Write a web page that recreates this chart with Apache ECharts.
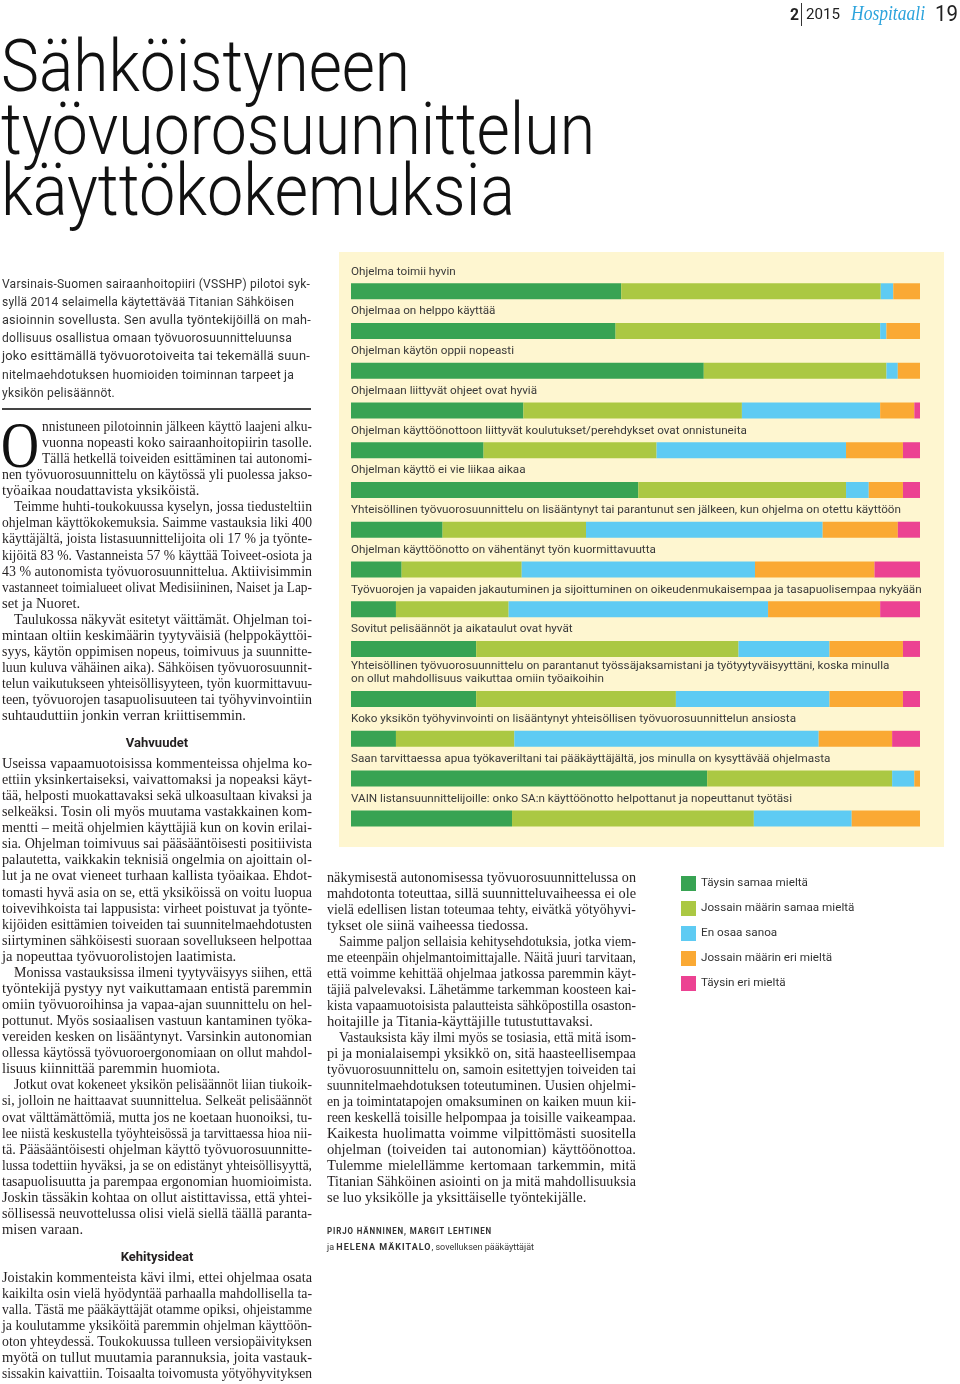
<!DOCTYPE html>
<html><head><meta charset="utf-8">
<script src="https://cdn.jsdelivr.net/npm/echarts@6/dist/echarts.min.js"></script>
<style>
html,body{margin:0;padding:0;background:#fff;}
#page{position:relative;width:960px;height:1384px;overflow:hidden;background:#fff;}
#chart{position:absolute;left:0;top:0;width:960px;height:1384px;z-index:1;}
.ln{position:absolute;z-index:2;white-space:nowrap;}
.ln>span{display:inline-block;white-space:nowrap;transform-origin:0 50%;}
.serif{font-family:"Liberation Serif","DejaVu Serif",serif;font-size:14.6px;color:#231f20;}
.intro{font-family:Roboto,"Liberation Sans",sans-serif;font-size:12px;color:#333;letter-spacing:0.2px;}
.title{font-family:Roboto,"Liberation Sans",sans-serif;font-weight:300;font-size:72px;color:#111;}
.hdr{font-family:Roboto,"Liberation Sans",sans-serif;color:#222;}
.head{position:absolute;z-index:2;font-family:Roboto,"Liberation Sans",sans-serif;font-weight:700;font-size:13px;color:#231f20;text-align:center;}
.by{font-family:Roboto,"Liberation Sans",sans-serif;font-size:9px;color:#333;}
.by b{letter-spacing:1px;font-weight:700;}
.drop{font-family:"Liberation Serif","DejaVu Serif",serif;font-size:66px;color:#111;}
</style></head>
<body>
<div id="page"><div id="chart"></div></div>
<script>
// ---------- DATA ----------
const questions = [
  'Ohjelma toimii hyvin',
  'Ohjelmaa on helppo käyttää',
  'Ohjelman käytön oppii nopeasti',
  'Ohjelmaan liittyvät ohjeet ovat hyviä',
  'Ohjelman käyttöönottoon liittyvät koulutukset/perehdykset ovat onnistuneita',
  'Ohjelman käyttö ei vie liikaa aikaa',
  'Yhteisöllinen työvuorosuunnittelu on lisääntynyt tai parantunut sen jälkeen, kun ohjelma on otettu käyttöön',
  'Ohjelman käyttöönotto on vähentänyt työn kuormittavuutta',
  'Työvuorojen ja vapaiden jakautuminen ja sijoittuminen on oikeudenmukaisempaa ja tasapuolisempaa nykyään',
  'Sovitut pelisäännöt ja aikataulut ovat hyvät',
  'Yhteisöllinen työvuorosuunnittelu on parantanut työssäjaksamistani ja työtyytyväisyyttäni, koska minulla\non ollut mahdollisuus vaikuttaa omiin työaikoihin',
  'Koko yksikön työhyvinvointi on lisääntynyt yhteisöllisen työvuorosuunnittelun ansiosta',
  'Saan tarvittaessa apua työkaveriltani tai pääkäyttäjältä, jos minulla on kysyttävää ohjelmasta',
  'VAIN listansuunnittelijoille: onko SA:n käyttöönotto helpottanut ja nopeuttanut työtäsi'
];
const taysinSamaa  = [47.5, 46.5, 62.0, 30.3, 23.3, 50.5, 16.1,  8.9,  7.9, 22.0, 22.0,  7.9, 62.6, 28.3];
const jossainSamaa = [45.6, 46.5, 32.1, 38.4, 30.4, 36.5, 25.2, 21.1, 19.8, 46.1, 35.1, 20.8, 32.5, 42.5];
const enOsaa       = [ 2.2,  1.1,  2.0, 24.3, 33.3,  4.0, 41.6, 41.0, 45.6, 16.0, 27.0, 53.5,  3.9, 17.2];
const jossainEri   = [ 4.7,  5.9,  3.9,  6.0, 10.0,  6.0, 13.2, 21.0, 19.7, 12.9, 12.9, 12.9,  1.0, 12.0];
const taysinEri    = [ 0,    0,    0,    1.0,  3.0,  3.0,  3.9,  8.0,  7.0,  3.0,  3.0,  4.9,  0,    0  ];
const legendNames = ['Täysin samaa mieltä', 'Jossain määrin samaa mieltä', 'En osaa sanoa', 'Jossain määrin eri mieltä', 'Täysin eri mieltä'];
const seriesValues = [taysinSamaa, jossainSamaa, enOsaa, jossainEri, taysinEri];
const colors = ['#38A353', '#ABC843', '#5ECBF3', '#FAA934', '#EC4292'];
const splitAt = 10; // second group (extra gap before two-line label)

// ---------- TEXT LAYOUT HELPERS ----------
const page = document.getElementById('page');
function addLine(o) {
  const d = document.createElement('div');
  d.className = 'ln ' + (o.cls || '');
  d.style.left = o.x + 'px';
  d.style.top = (o.cy - o.lh / 2) + 'px';
  d.style.height = o.lh + 'px';
  d.style.lineHeight = o.lh + 'px';
  if (o.color) d.style.color = o.color;
  const sp = document.createElement('span');
  sp.innerHTML = o.html;
  d.appendChild(sp);
  d.dataset.w = o.w; d.dataset.m = o.m;
  page.appendChild(d);
}
function addBlock(x, y0, pitch, w, cls, lines) {
  lines.forEach((s, i) => {
    let indent = 0, m = 'j';
    if (s.startsWith('§')) { indent = 40; s = s.slice(1); }
    else if (s.startsWith('>')) { indent = 12; s = s.slice(1); }
    if (s.endsWith('¶')) { m = 'l'; s = s.slice(0, -1); }
    addLine({x: x + indent, cy: y0 + i * pitch, lh: 16, w: w - indent, m: m, cls: cls, html: s});
  });
}
function fit() {
  document.querySelectorAll('.ln').forEach(d => {
    const sp = d.firstChild;
    sp.style.transform = ''; sp.style.display = 'inline-block'; sp.style.width = '';
    sp.style.whiteSpace = 'nowrap'; sp.style.textAlign = ''; sp.style.textAlignLast = '';
    const nat = sp.getBoundingClientRect().width;
    const w = +d.dataset.w, m = d.dataset.m;
    if (m === 's' || nat > w - 0.5) sp.style.transform = 'scaleX(' + (w / nat) + ')';
    else if (m === 'j') {
      sp.style.display = 'block'; sp.style.width = w + 'px'; sp.style.whiteSpace = 'normal';
      sp.style.textAlign = 'justify'; sp.style.textAlignLast = 'justify';
    }
  });
}

// header
addLine({x: 790, cy: 14, lh: 24, w: 9, m: 's', cls: 'hdr', html: '<b style="font-size:17px">2</b>'});
const sep = document.createElement('div');
sep.style.cssText = 'position:absolute;left:801px;top:3px;width:1px;height:23px;background:#333;z-index:2';
page.appendChild(sep);
addLine({x: 806, cy: 14, lh: 24, w: 34, m: 's', cls: 'hdr', html: '<span style="font-size:15px">2015</span>'});
addLine({x: 851, cy: 13, lh: 24, w: 74, m: 's', cls: 'hdr', color: '#2BA3DC', html: '<i style="font-family:\'Liberation Serif\',serif;font-size:20px">Hospitaali</i>'});
addLine({x: 935, cy: 14, lh: 26, w: 23, m: 's', cls: 'hdr', html: '<span style="font-size:22px">19</span>'});

// title
addLine({x: 1, cy: 66.5, lh: 72, w: 409, m: 's', cls: 'title', html: 'Sähköistyneen'});
addLine({x: 1, cy: 129.5, lh: 72, w: 594, m: 's', cls: 'title', html: 'työvuorosuunnittelun'});
addLine({x: 1, cy: 190.5, lh: 72, w: 514, m: 's', cls: 'title', html: 'käyttökokemuksia'});

// intro (ragged)
const introLines = [
  ['Varsinais-Suomen sairaanhoitopiiri (VSSHP) pilotoi syk-', 308],
  ['syllä 2014 selaimella käytettävää Titanian Sähköisen', 292],
  ['asioinnin sovellusta. Sen avulla työntekijöillä on mah-', 309],
  ['dollisuus osallistua omaan työvuorosuunnitteluunsa', 290],
  ['joko esittämällä työvuorotoiveita tai tekemällä suun-', 308],
  ['nitelmaehdotuksen huomioiden toiminnan tarpeet ja', 292],
  ['yksikön pelisäännöt.', 113]
];
introLines.forEach((l, i) => addLine({x: 2, cy: 284 + i * 18.1, lh: 18, w: l[1], m: 's', cls: 'intro', html: l[0]}));
const rule = document.createElement('div');
rule.style.cssText = 'position:absolute;left:2px;top:408px;width:309px;height:1.5px;background:#444;z-index:2';
page.appendChild(rule);

// drop cap
addLine({x: 1, cy: 445, lh: 66, w: 38, m: 's', cls: 'drop', html: 'O'});

addBlock(2, 426, 16.07, 310, 'serif', [
  '§nnistuneen pilotoinnin jälkeen käyttö laajeni alku-',
  '§vuonna nopeasti koko sairaanhoitopiirin tasolle.',
  '§Tällä hetkellä toiveiden esittäminen tai autonomi-',
  'nen työvuorosuunnittelu on käytössä yli puolessa jakso-',
  'työaikaa noudattavista yksiköistä.¶',
  '>Teimme huhti-toukokuussa kyselyn, jossa tiedusteltiin',
  'ohjelman käyttökokemuksia. Saimme vastauksia liki 400',
  'käyttäjältä, joista listasuunnittelijoita oli 17 % ja työnte-',
  'kijöitä 83 %. Vastanneista 57 % käyttää Toiveet-osiota ja',
  '43 % autonomista työvuorosuunnittelua. Aktiivisimmin',
  'vastanneet toimialueet olivat Medisiininen, Naiset ja Lap-',
  'set ja Nuoret.¶',
  '>Taulukossa näkyvät esitetyt väittämät. Ohjelman toi-',
  'mintaan oltiin keskimäärin tyytyväisiä (helppokäyttöi-',
  'syys, käytön oppimisen nopeus, toimivuus ja suunnitte-',
  'luun kuluva vähäinen aika). Sähköisen työvuorosuunnit-',
  'telun vaikutukseen yhteisöllisyyteen, työn kuormittavuu-',
  'teen, työvuorojen tasapuolisuuteen tai työhyvinvointiin',
  'suhtauduttiin jonkin verran kriittisemmin.¶'
]);

function addHead(text, cy) {
  const h = document.createElement('div');
  h.className = 'head';
  h.style.left = '2px'; h.style.width = '310px';
  h.style.top = (cy - 9) + 'px'; h.style.lineHeight = '18px';
  h.textContent = text;
  page.appendChild(h);
}
addHead('Vahvuudet', 743);

addBlock(2, 763, 16.07, 310, 'serif', [
  'Useissa vapaamuotoisissa kommenteissa ohjelma ko-',
  'ettiin yksinkertaiseksi, vaivattomaksi ja nopeaksi käyt-',
  'tää, helposti muokattavaksi sekä ulkoasultaan kivaksi ja',
  'selkeäksi. Tosin oli myös muutama vastakkainen kom-',
  'mentti – meitä ohjelmien käyttäjiä kun on kovin erilai-',
  'sia. Ohjelman toimivuus sai pääsääntöisesti positiivista',
  'palautetta, vaikkakin teknisiä ongelmia on ajoittain ol-',
  'lut ja ne ovat vieneet turhaan kallista työaikaa. Ehdot-',
  'tomasti hyvä asia on se, että yksiköissä on voitu luopua',
  'toivevihkoista tai lappusista: virheet poistuvat ja työnte-',
  'kijöiden esittämien toiveiden tai suunnitelmaehdotusten',
  'siirtyminen sähköisesti suoraan sovellukseen helpottaa',
  'ja nopeuttaa työvuorolistojen laatimista.¶',
  '>Monissa vastauksissa ilmeni tyytyväisyys siihen, että',
  'työntekijä pystyy nyt vaikuttamaan entistä paremmin',
  'omiin työvuoroihinsa ja vapaa-ajan suunnittelu on hel-',
  'pottunut. Myös sosiaalisen vastuun kantaminen työka-',
  'vereiden kesken on lisääntynyt. Varsinkin autonomian',
  'ollessa käytössä työvuoroergonomiaan on ollut mahdol-',
  'lisuus kiinnittää paremmin huomiota.¶',
  '>Jotkut ovat kokeneet yksikön pelisäännöt liian tiukoik-',
  'si, jolloin ne haittaavat suunnittelua. Selkeät pelisäännöt',
  'ovat välttämättömiä, mutta jos ne koetaan huonoiksi, tu-',
  'lee niistä keskustella työyhteisössä ja tarvittaessa hioa nii-',
  'tä. Pääsääntöisesti ohjelman käyttö työvuorosuunnitte-',
  'lussa todettiin hyväksi, ja se on edistänyt yhteisöllisyyttä,',
  'tasapuolisuutta ja parempaa ergonomian huomioimista.',
  'Joskin tässäkin kohtaa on ollut aistittavissa, että yhtei-',
  'söllisessä neuvottelussa olisi vielä siellä täällä paranta-',
  'misen varaan.¶'
]);

addHead('Kehitysideat', 1257);

addBlock(2, 1277, 16.07, 310, 'serif', [
  'Joistakin kommenteista kävi ilmi, ettei ohjelmaa osata',
  'kaikilta osin vielä hyödyntää parhaalla mahdollisella ta-',
  'valla. Tästä me pääkäyttäjät otamme opiksi, ohjeistamme',
  'ja koulutamme yksiköitä paremmin ohjelman käyttöön-',
  'oton yhteydessä. Toukokuussa tulleen versiopäivityksen',
  'myötä on tullut muutamia parannuksia, joita vastauk-',
  'sissakin kaivattiin. Toisaalta toivomusta yötyöhyvityksen'
]);

addBlock(327, 877, 16.0, 309, 'serif', [
  'näkymisestä autonomisessa työvuorosuunnittelussa on',
  'mahdotonta toteuttaa, sillä suunnitteluvaiheessa ei ole',
  'vielä edellisen listan toteumaa tehty, eivätkä yötyöhyvi-',
  'tykset ole siinä vaiheessa tiedossa.¶',
  '>Saimme paljon sellaisia kehitysehdotuksia, jotka viem-',
  'me eteenpäin ohjelmantoimittajalle. Näitä juuri tarvitaan,',
  'että voimme kehittää ohjelmaa jatkossa paremmin käyt-',
  'täjiä palvelevaksi. Lähetämme tarkemman koosteen kai-',
  'kista vapaamuotoisista palautteista sähköpostilla osaston-',
  'hoitajille ja Titania-käyttäjille tutustuttavaksi.¶',
  '>Vastauksista käy ilmi myös se tosiasia, että mitä isom-',
  'pi ja monialaisempi yksikkö on, sitä haasteellisempaa',
  'työvuorosuunnittelu on, samoin esitettyjen toiveiden tai',
  'suunnitelmaehdotuksen toteutuminen. Uusien ohjelmi-',
  'en ja toimintatapojen omaksuminen on kaiken muun kii-',
  'reen keskellä toisille helpompaa ja toisille vaikeampaa.',
  'Kaikesta huolimatta voimme vilpittömästi suositella',
  'ohjelman (toiveiden tai autonomian) käyttöönottoa.',
  'Tulemme mielellämme kertomaan tarkemmin, mitä',
  'Titanian Sähköinen asiointi on ja mitä mahdollisuuksia',
  'se luo yksikölle ja yksittäiselle työntekijälle.¶'
]);

addLine({x: 327, cy: 1231, lh: 14, w: 165, m: 's', cls: 'by', html: '<b>PIRJO HÄNNINEN, MARGIT LEHTINEN</b>'});
addLine({x: 327, cy: 1247, lh: 14, w: 207, m: 's', cls: 'by', html: 'ja <b>HELENA MÄKITALO</b>, sovelluksen pääkäyttäjät'});

fit();
if (document.fonts && document.fonts.ready) document.fonts.ready.then(fit);

// ---------- CHART ----------
const fontFam = 'Roboto, "Liberation Sans", sans-serif';
const cv = document.createElement('canvas').getContext('2d');
cv.font = '100px ' + fontFam;
const labelFont = 100 * 551 / cv.measureText(questions[6]).width;

const chart = echarts.init(document.getElementById('chart'), null, {renderer: 'canvas'});
const groups = [
  {cats: questions.slice(0, splitAt), from: 0, to: splitAt, top: 271.4, height: 397.4},
  {cats: questions.slice(splitAt), from: splitAt, to: questions.length, top: 679.1, height: 159.2}
];
const series = [];
groups.forEach((g, gi) => {
  seriesValues.forEach((vals, si) => {
    series.push({
      type: 'bar', name: legendNames[si], stack: 'g' + gi,
      xAxisIndex: gi, yAxisIndex: gi, barWidth: 16,
      itemStyle: {color: colors[si]},
      emphasis: {disabled: true},
      data: vals.slice(g.from, g.to)
    });
  });
});
chart.setOption({
  animation: false,
  graphic: [{
    type: 'rect', left: 339, top: 252, silent: true, z: -100,
    shape: {width: 605, height: 595}, style: {fill: '#FEF6D0'}
  }],
  legend: {
    data: legendNames, orient: 'vertical', left: 681, top: 876, padding: 0,
    itemWidth: 15, itemHeight: 15, itemGap: 10, icon: 'rect',
    textStyle: {fontFamily: fontFam, fontSize: labelFont, color: '#333'}
  },
  grid: groups.map(g => ({left: 351, width: 569, top: g.top, height: g.height, containLabel: false})),
  xAxis: groups.map((g, gi) => ({type: 'value', gridIndex: gi, min: 0, max: 100, show: false})),
  yAxis: groups.map((g, gi) => ({
    type: 'category', gridIndex: gi, data: g.cats, inverse: true,
    axisLine: {show: false}, axisTick: {show: false}, splitLine: {show: false},
    axisLabel: {
      inside: true, interval: 0, margin: 0, align: 'left', verticalAlign: 'bottom',
      padding: [0, 0, 13, 0], lineHeight: 13,
      fontFamily: fontFam, fontSize: labelFont, color: '#3a3a3a'
    }
  })),
  series: series
});
</script>
</body></html>
